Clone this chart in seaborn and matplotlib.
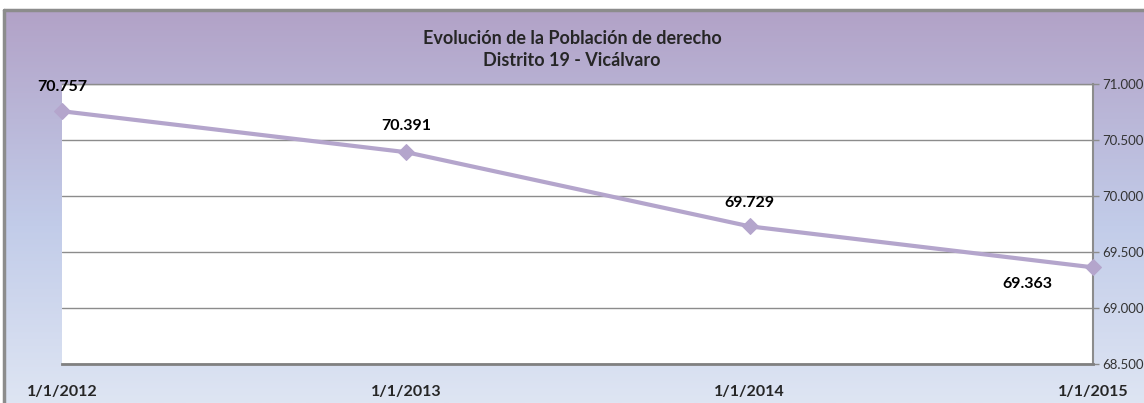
import numpy as np
import pandas as pd
import matplotlib
matplotlib.use("Agg")
import matplotlib.pyplot as plt
import matplotlib.dates as mdates
from matplotlib.colors import LinearSegmentedColormap
from matplotlib.ticker import FuncFormatter, FixedLocator
import seaborn as sns

# ---- data ----
dates = ["2012-01-01", "2013-01-01", "2014-01-01", "2015-01-01"]
date_labels = ["1/1/2012", "1/1/2013", "1/1/2014", "1/1/2015"]
population = [70757, 70391, 69729, 69363]
value_labels = ["70.757", "70.391", "69.729", "69.363"]
y_ticks = [68500, 69000, 69500, 70000, 70500, 71000]
title_lines = ["Evolución de la Población de derecho", "Distrito 19 - Vicálvaro"]

sns.set_style("white")
plt.rcParams['font.family'] = ['Lato', 'DejaVu Sans']

W, H = 1144, 403
fig = plt.figure(figsize=(W / 100, H / 100), dpi=100)

# background gradient panel
bg = fig.add_axes([4 / W, 0, 1 - 4 / W, (H - 10) / H])
bg.set_axis_off()
cmap = LinearSegmentedColormap.from_list(
    "bg", [(0.0, "#b2a2c7"), (0.55, "#c2cce9"), (1.0, "#dee5f3")])
grad = np.linspace(0, 1, 256).reshape(-1, 1)
bg.imshow(grad, aspect="auto", cmap=cmap, extent=[0, 1, 0, 1], origin="upper")
bg.set_xlim(0, 1)
bg.set_ylim(0, 1)
bg.plot([0, 0], [0, 1], color="#8c8c8c", lw=2.5, clip_on=False)
bg.plot([0, 1], [1, 1], color="#8c8c8c", lw=2.5, clip_on=False)

# main axes
left, right, top, bottom = 62, 1093, 84, 364
ax = fig.add_axes([left / W, (H - bottom) / H, (right - left) / W, (bottom - top) / H])
ax.set_facecolor("white")

df = pd.DataFrame({"date": pd.to_datetime(dates), "pop": population})
df["x"] = mdates.date2num(df["date"])
line_color = "#b4a5cc"
sns.lineplot(data=df, x="x", y="pop", ax=ax, color=line_color, lw=3,
             marker="D", markersize=8, markeredgecolor=line_color, clip_on=False, zorder=5)

ax.set_xlim(df["x"].iloc[0], df["x"].iloc[-1])
ax.set_ylim(y_ticks[0], y_ticks[-1])

# y axis on right
ax.yaxis.tick_right()
ax.yaxis.set_major_locator(FixedLocator(y_ticks))
ax.yaxis.set_major_formatter(FuncFormatter(lambda v, p: f"{int(v):,}".replace(",", ".")))
ax.tick_params(axis="y", which="both", right=True, length=4, width=1, color="#8c8c8c",
               labelsize=9.5, labelcolor="#333333", pad=3)
ax.grid(axis="y", color="#8c8c8c", lw=1)
ax.set_axisbelow(True)

# x ticks
ax.set_xticks(df["x"])
ax.set_xticklabels(date_labels, fontweight="bold", fontsize=11.5)
ax.tick_params(axis="x", length=0, pad=15)

ax.spines["left"].set_visible(False)
ax.spines["top"].set_color("#8c8c8c")
ax.spines["top"].set_linewidth(1)
ax.spines["right"].set_color("#8c8c8c")
ax.spines["right"].set_linewidth(1.5)
ax.spines["bottom"].set_color("#808080")
ax.spines["bottom"].set_linewidth(2)
ax.set_xlabel("")
ax.set_ylabel("")

# data labels (offsets in points)
offsets = [(0, 17.5), (0, 19), (0, 17), (-47, -12)]
for xv, yv, lab, off in zip(df["x"], population, value_labels, offsets):
    ax.annotate(lab, (xv, yv), xytext=off, textcoords="offset points",
                ha="center", va="center", fontweight="bold", fontsize=11.5,
                color="black", annotation_clip=False)

# title
fig.text(0.5, (H - 38) / H, title_lines[0], ha="center", va="center",
         fontweight="bold", fontsize=13)
fig.text(0.5, (H - 60) / H, title_lines[1], ha="center", va="center",
         fontweight="bold", fontsize=13)

fig.savefig("out.png", dpi=100, facecolor="white")
